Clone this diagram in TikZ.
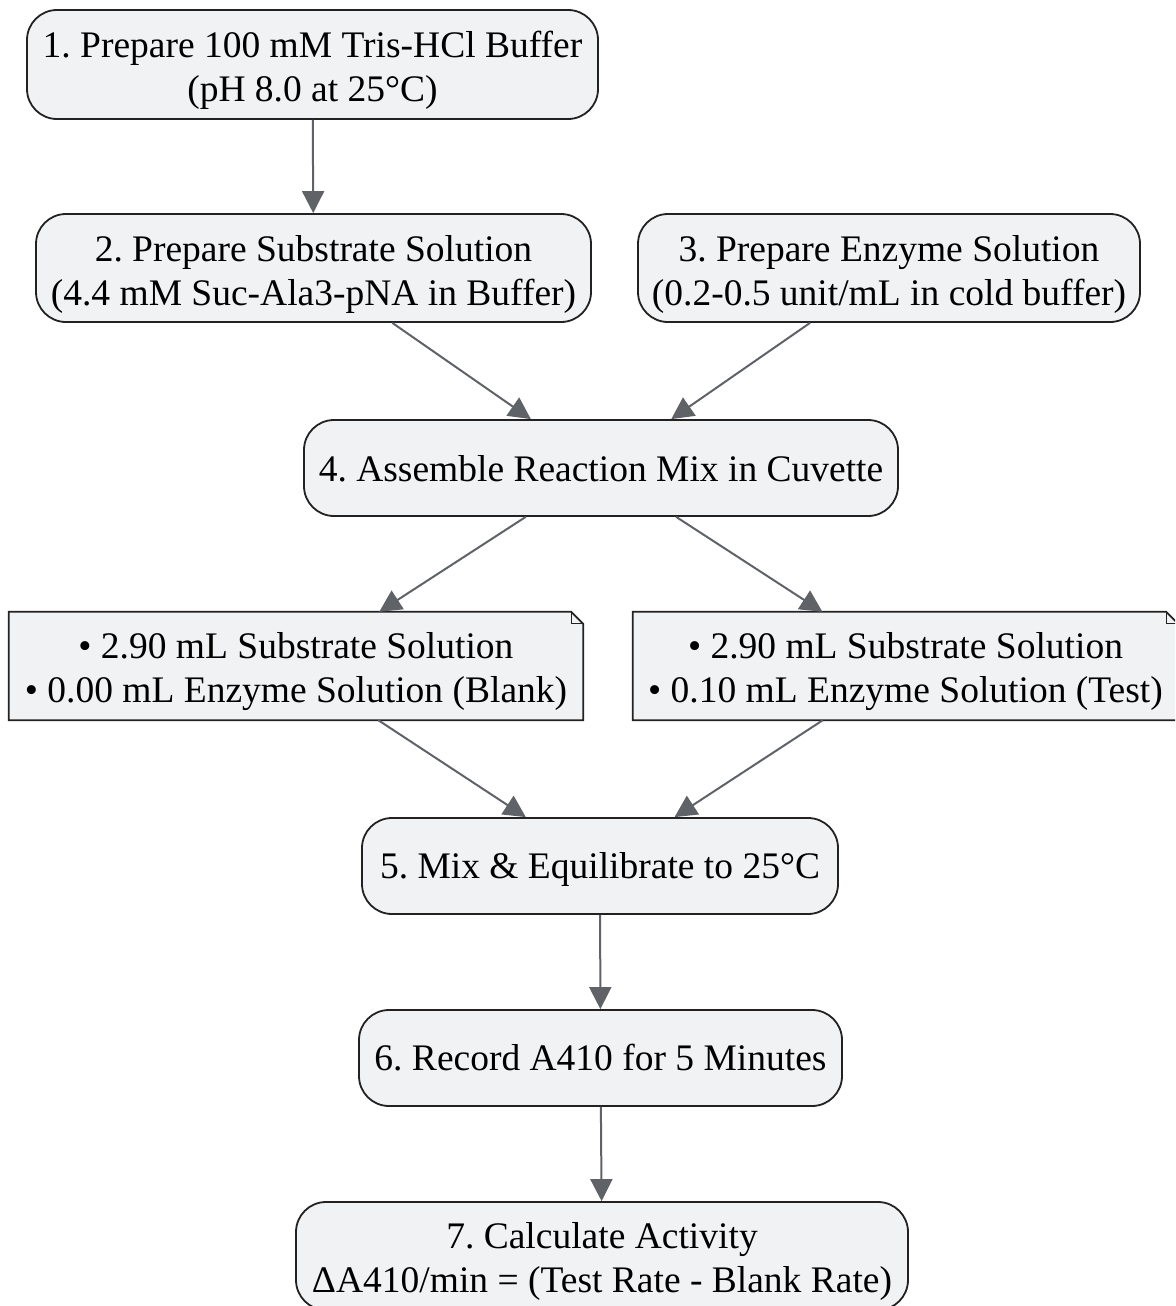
\documentclass[tikz,border=0pt]{standalone}
\usepackage{fontspec}
\setmainfont{Liberation Serif}
\usetikzlibrary{arrows.meta}
\definecolor{boxfill}{HTML}{F1F2F4}
\definecolor{boxline}{HTML}{222222}
\definecolor{arrowcol}{HTML}{5F6368}
\tikzset{
  stepbox/.style={draw=boxline, line width=1.8pt, fill=boxfill, rounded corners=30pt, inner sep=0pt},
  notebox/.style={draw=none, inner sep=0pt},
  txt/.style={align=center, inner sep=0pt, font=\fontsize{37.5}{44}\selectfont},
  flow/.style={draw=arrowcol, line width=2pt, -{Triangle[length=22pt,width=22pt]}},
}
\frenchspacing
\begin{document}
\begin{tikzpicture}[x=1pt,y=-1pt]
\useasboundingbox (0,0) rectangle (1175,1306);
\clip (0,0) rectangle (1175,1306);
\node[stepbox, minimum width=571pt, minimum height=109pt] (n1) at (312.5,64.5) {};
\node[stepbox, minimum width=555pt, minimum height=108pt] (n2) at (313.5,268) {};
\node[stepbox, minimum width=502pt, minimum height=108pt] (n3) at (889,268) {};
\node[stepbox, minimum width=594pt, minimum height=96pt] (n4) at (601,468) {};
\node[notebox, minimum width=574pt, minimum height=108pt] (nl) at (296,666) {};
\node[notebox, minimum width=545pt, minimum height=108pt] (nr) at (905.5,666) {};
\node[stepbox, minimum width=476pt, minimum height=96pt] (n5) at (600,866) {};
\node[stepbox, minimum width=483pt, minimum height=96pt] (n6) at (600.5,1058) {};
\node[stepbox, minimum width=612pt, minimum height=108pt] (n7) at (602,1256) {};
% note outlines with folded corner
\foreach \n in {nl,nr}{
  \fill[boxfill] (\n.north west) -- ([xshift=-12pt]\n.north east) -- ([yshift=-12pt]\n.north east) -- (\n.south east) -- (\n.south west) -- cycle;
  \draw[boxline, line width=1.8pt, line join=miter] (\n.north west) -- ([xshift=-12pt]\n.north east) -- ([yshift=-12pt]\n.north east) -- (\n.south east) -- (\n.south west) -- cycle;
  \draw[boxline, line width=1.2pt] ([xshift=-12pt]\n.north east) -- ([xshift=-12pt,yshift=-12pt]\n.north east) -- ([yshift=-12pt]\n.north east);
}
% texts
\node[txt] (t1) at ([yshift=-6pt]n1.center) {1. Prepare 100 mM Tris-HCl Buffer\\(pH 8.0 at 25°C)};
\node[txt] (t2) at ([yshift=-6pt]n2.center) {2. Prepare Substrate Solution\\(4.4 mM Suc-Ala3-pNA in Buffer)};
\node[txt] (t3) at ([yshift=-6pt]n3.center) {3. Prepare Enzyme Solution\\(0.2-0.5 unit/mL in cold buffer)};
\node[txt] (t4) at ([yshift=-1pt]n4.center) {4. Assemble Reaction Mix in Cuvette};
\node[txt] (tl) at ([yshift=-6pt]nl.center) {• 2.90 mL Substrate Solution\\• 0.00 mL Enzyme Solution (Blank)};
\node[txt] (tr) at ([yshift=-6pt]nr.center) {• 2.90 mL Substrate Solution\\• 0.10 mL Enzyme Solution (Test)};
\node[txt] (t5) at ([yshift=-3pt]n5.center) {5. Mix \& Equilibrate to 25°C};
\node[txt] (t6) at (n6.center) {6. Record A410 for 5 Minutes};
\node[txt] (t7) at ([yshift=-5pt]n7.center) {7. Calculate Activity\\ΔA410/min = (Test Rate - Blank Rate)};
% connectors
\draw[flow] (n1) -- (n2);
\draw[flow] (n2) -- (n4);
\draw[flow] (n3) -- (n4);
\draw[flow] (n4) -- (nl);
\draw[flow] (n4) -- (nr);
\draw[flow] (nl) -- (n5);
\draw[flow] (nr) -- (n5);
\draw[flow] (n5) -- (n6);
\draw[flow] (n6) -- (n7);
\end{tikzpicture}
\end{document}
